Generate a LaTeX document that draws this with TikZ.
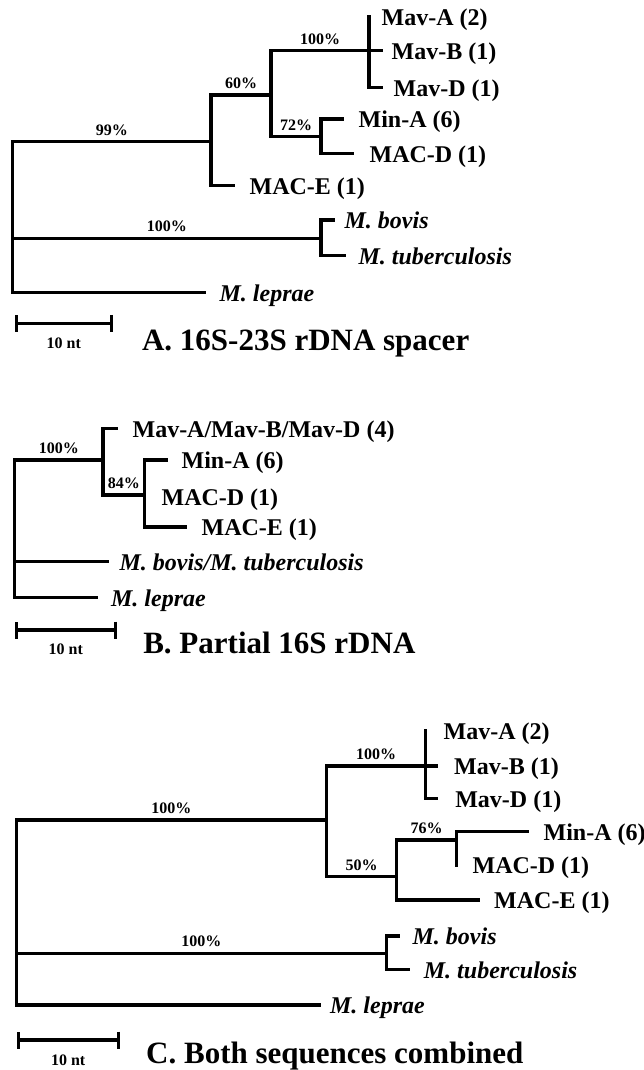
\documentclass[tikz,border=0pt]{standalone}
\usepackage{fontspec}
\setmainfont{Liberation Serif}
\usetikzlibrary{arrows.meta, positioning}

\tikzset{
  leaf/.style={font=\fontsize{24}{26}\selectfont\bfseries, inner sep=0pt, text height=17.5pt, text depth=0pt},
  species/.style={leaf, font=\fontsize{24}{26}\selectfont\bfseries\itshape},
  pct/.style={font=\fontsize{16}{18}\selectfont\bfseries, inner sep=0pt, text depth=0pt, above=5pt, pos=.75},
  scalebar/.style={{Bar[width=17pt]}-{Bar[width=17pt]}},
  ten/.style={font=\fontsize{16}{18}\selectfont\bfseries, inner sep=0pt, midway, anchor=base, yshift=-25pt},
  paneltitle/.style={font=\fontsize{31}{35}\selectfont\bfseries, inner sep=0pt, anchor=base west}
}

\begin{document}
\begin{tikzpicture}[x=1pt, y=-1pt, line width=3.2pt, line cap=rect]
  \path[fill=white, use as bounding box] (0,0) rectangle (644,1070);

  % --- A: 16S-23S spacer ---
  \coordinate (aR) at (12.5,141.7);
  \coordinate (aN1) at (211,141.7);
  \coordinate (aN2) at (271,95);
  \coordinate (aN3) at (369,50.7);
  \coordinate (aN4) at (321,136.7);
  \coordinate (aN5) at (321,238.3);
  \coordinate (aTipMavA) at (369,16.6);
  \coordinate (aTipMavB) at (381,50.7);
  \coordinate (aTipMavD) at (381,87.3);
  \coordinate (aTipMinA) at (342,119);
  \coordinate (aTipMacD) at (352,153.3);
  \coordinate (aTipMacE) at (233,185.5);
  \coordinate (aTipBovis) at (333,220);
  \coordinate (aTipTb) at (344,255.7);
  \coordinate (aTipLep) at (204,292.3);

  \draw (aR) |- node[pct] {99\%} (aN1);
  \draw (aR) |- node[pct] {100\%} (aN5);
  \draw (aR) |- (aTipLep);
  \draw (aN1) |- node[pct] {60\%} (aN2);
  \draw (aN1) |- (aTipMacE);
  \draw (aN2) |- node[pct] {100\%} (aN3);
  \draw (aN2) |- node[pct] {72\%} (aN4);
  \draw (aN3) |- (aTipMavA);
  \draw (aN3) |- (aTipMavB);
  \draw (aN3) |- (aTipMavD);
  \draw (aN4) |- (aTipMinA);
  \draw (aN4) |- (aTipMacD);
  \draw (aN5) |- (aTipBovis);
  \draw (aN5) |- (aTipTb);

  \node[leaf, right=11pt of aTipMavA] (aMavA) {Mav-A (2)};
  \node[leaf, right=9pt of aTipMavB] (aMavB) {Mav-B (1)};
  \node[leaf, right=11pt of aTipMavD] (aMavD) {Mav-D (1)};
  \node[leaf, right=15pt of aTipMinA] (aMinA) {Min-A (6)};
  \node[leaf, right=16pt of aTipMacD] (aMacD) {MAC-D (1)};
  \node[leaf, right=15pt of aTipMacE] (aMacE) {MAC-E (1)};
  \node[species, right=10pt of aTipBovis] (aBovis) {M. bovis};
  \node[species, right=13pt of aTipTb] (aTb) {M. tuberculosis};
  \node[species, right=14pt of aTipLep] (aLep) {M. leprae};

  \coordinate (aSb1) at (14.5,323.3);
  \coordinate (aSb2) at (113,323.3);
  \draw[scalebar] (aSb1) -- node[ten] {10 nt} (aSb2);
  \node[paneltitle] (aTitle) at (140.5,350) {A. 16S-23S rDNA spacer};

  % --- B: partial 16S ---
  \coordinate (bR) at (14.5,460);
  \coordinate (bN1) at (103,460);
  \coordinate (bN2) at (144.6,495);
  \coordinate (bTipMav) at (116,428.3);
  \coordinate (bTipMinA) at (166,460);
  \coordinate (bTipMacD) at (144.6,496.5);
  \coordinate (bTipMacE) at (185.8,527);
  \coordinate (bTipTub) at (107,561.7);
  \coordinate (bTipLep) at (96,597.3);

  \draw (bR) |- node[pct] {100\%} (bN1);
  \draw (bR) |- (bTipTub);
  \draw (bR) |- (bTipLep);
  \draw (bN1) |- (bTipMav);
  \draw (bN1) |- node[pct] {84\%} (bN2);
  \draw (bN2) |- (bTipMinA);
  \draw (bN2) |- (bTipMacD);
  \draw (bN2) |- (bTipMacE);

  \node[leaf, right=15pt of bTipMav] (bMav) {Mav-A/Mav-B/Mav-D (4)};
  \node[leaf, right=14pt of bTipMinA] (bMinA) {Min-A (6)};
  \node[leaf, right=15.4pt of bTipMacD] (bMacD) {MAC-D (1)};
  \node[leaf, right=14.2pt of bTipMacE] (bMacE) {MAC-E (1)};
  \node[species, right=11pt of bTipTub] (bTub) {M. bovis/M. tuberculosis};
  \node[species, right=13.5pt of bTipLep] (bLep) {M. leprae};

  \coordinate (bSb1) at (14.5,630);
  \coordinate (bSb2) at (117,630);
  \draw[scalebar] (bSb1) -- node[ten, yshift=1pt] {10 nt} (bSb2);
  \node[paneltitle] (bTitle) at (141.7,653) {B. Partial 16S rDNA};

  % --- C: both combined ---
  \coordinate (cR) at (16.5,820);
  \coordinate (cN1) at (326.4,820);
  \coordinate (cN2) at (425.6,766);
  \coordinate (cN3) at (396.7,876.7);
  \coordinate (cN4) at (456.6,840);
  \coordinate (cN5) at (386.4,953.3);
  \coordinate (cTipMavA) at (425.6,731);
  \coordinate (cTipMavB) at (436,766);
  \coordinate (cTipMavD) at (436,798.3);
  \coordinate (cTipMinA) at (527,831.7);
  \coordinate (cTipMacD) at (456.6,865);
  \coordinate (cTipMacE) at (478,900);
  \coordinate (cTipBovis) at (398,936);
  \coordinate (cTipTb) at (408,969.3);
  \coordinate (cTipLep) at (319,1005);

  \draw (cR) |- node[pct] {100\%} (cN1);
  \draw (cR) |- node[pct] {100\%} (cN5);
  \draw (cR) |- (cTipLep);
  \draw (cN1) |- node[pct] {100\%} (cN2);
  \draw (cN1) |- node[pct] {50\%} (cN3);
  \draw (cN2) |- (cTipMavA);
  \draw (cN2) |- (cTipMavB);
  \draw (cN2) |- (cTipMavD);
  \draw (cN3) |- node[pct] {76\%} (cN4);
  \draw (cN3) |- (cTipMacE);
  \draw (cN4) |- (cTipMinA);
  \draw (cN4) |- (cTipMacD);
  \draw (cN5) |- (cTipBovis);
  \draw (cN5) |- (cTipTb);

  \node[leaf, right=16.4pt of cTipMavA] (cMavA) {Mav-A (2)};
  \node[leaf, right=16.5pt of cTipMavB] (cMavB) {Mav-B (1)};
  \node[leaf, right=17.7pt of cTipMavD] (cMavD) {Mav-D (1)};
  \node[leaf, right=15pt of cTipMinA] (cMinA) {Min-A (6)};
  \node[leaf, right=14.4pt of cTipMacD] (cMacD) {MAC-D (1)};
  \node[leaf, right=14.6pt of cTipMacE] (cMacE) {MAC-E (1)};
  \node[species, right=13pt of cTipBovis] (cBovis) {M. bovis};
  \node[species, right=14.3pt of cTipTb] (cTb) {M. tuberculosis};
  \node[species, right=9.5pt of cTipLep] (cLep) {M. leprae};

  \coordinate (cSb1) at (16.5,1040);
  \coordinate (cSb2) at (119.8,1040);
  \draw[scalebar] (cSb1) -- node[ten] {10 nt} (cSb2);
  \node[paneltitle] (cTitle) at (144.6,1063) {C. Both sequences combined};
\end{tikzpicture}
\end{document}
